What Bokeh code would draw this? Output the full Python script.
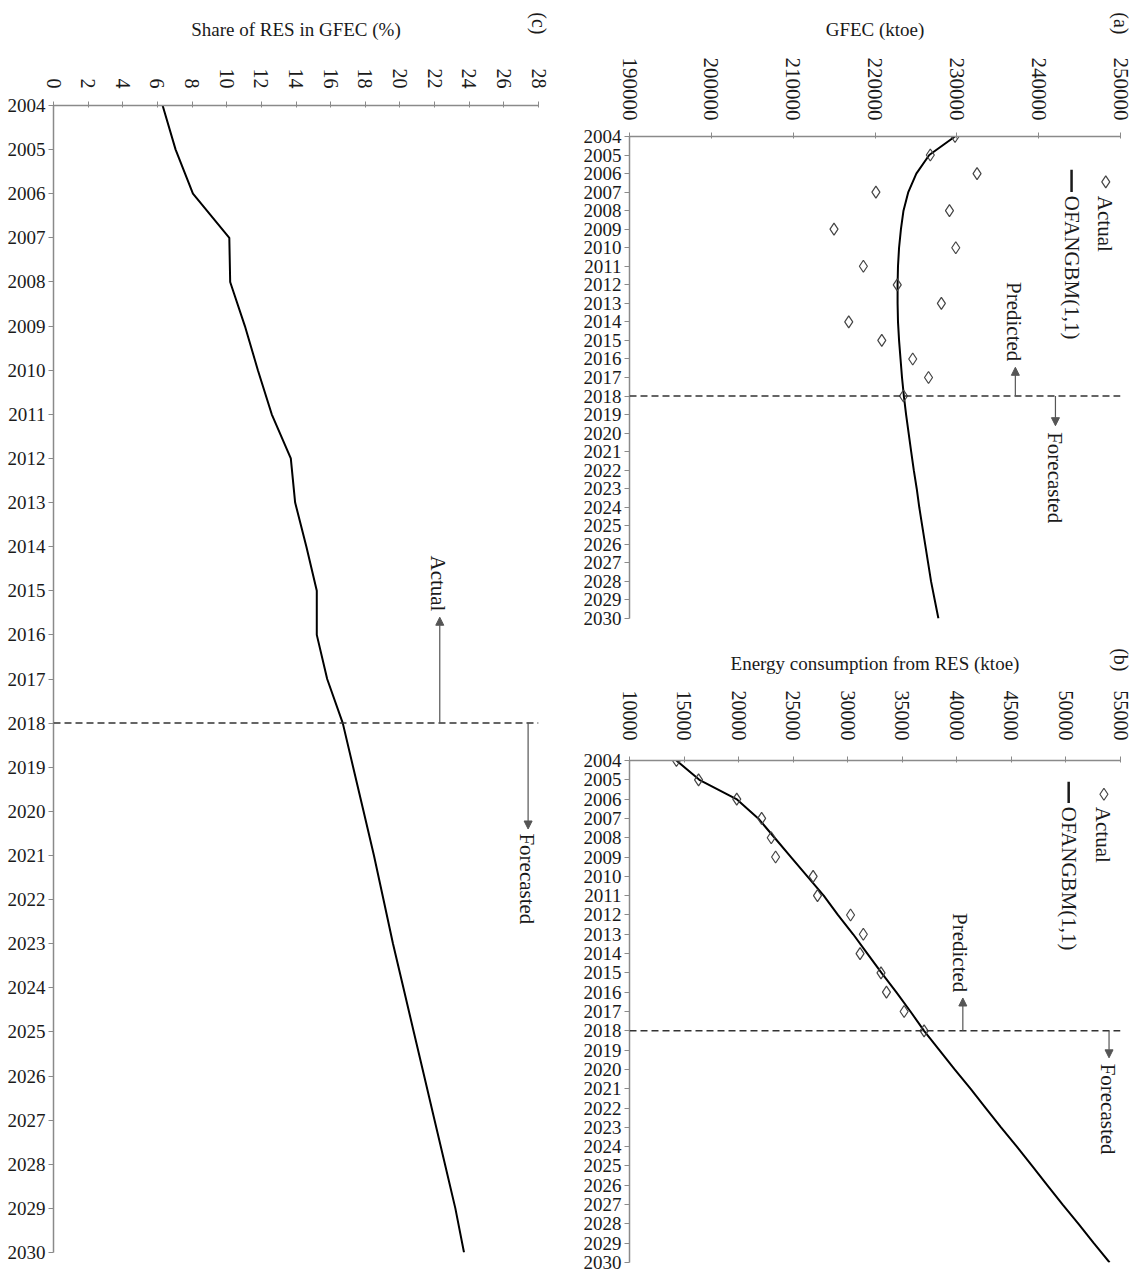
import math
from bokeh.plotting import figure
from bokeh.layouts import row, column
from bokeh.models import (Range1d, FixedTicker, NumeralTickFormatter, Span, Label,
                          Arrow, NormalHead, LinearAxis)
from bokeh.embed import file_html
from bokeh.resources import INLINE

# ---- data -------------------------------------------------------------
years = list(range(2004, 2031))
years_actual = list(range(2004, 2019))
split_year = 2018

# (a) gross final energy consumption, ktoe
gfec_actual = [229780, 226760, 232470, 220110, 229100, 214990, 229870, 218580,
               222720, 228110, 216790, 220830, 224610, 226540, 223480]
gfec_model = [229780, 226630, 225050, 224070, 223480, 223170, 222940, 222810,
              222760, 222760, 222810, 222940, 223120, 223300, 223530, 223800,
              224110, 224420, 224740, 225100, 225410, 225770, 226130, 226490,
              226850, 227300, 227750]

# (b) energy consumption from renewable sources, ktoe
res_actual = [14300, 16330, 19830, 22110, 22990, 23390, 26830, 27230, 30260,
              31430, 31130, 33050, 33550, 35170, 37000]
res_model = [14300, 16400, 19800, 21800, 23300, 24800, 26300, 27800, 29100,
             30500, 31800, 33100, 34450, 35750, 37000, 38400, 39800, 41250,
             42650, 44050, 45500, 46900, 48300, 49700, 51150, 52550, 54000]

# (c) share of renewables in GFEC, %
res_share = [6.3, 7.05, 8.05, 10.15, 10.2, 11.05, 11.8, 12.6, 13.7, 13.95, 14.6,
             15.2, 15.2, 15.8, 16.7, 17.3, 17.9, 18.5, 19.05, 19.6, 20.2, 20.8,
             21.4, 22.0, 22.6, 23.2, 23.7]

gfec_ticks = [190000, 200000, 210000, 220000, 230000, 240000, 250000]
res_ticks = [10000, 15000, 20000, 25000, 30000, 35000, 40000, 45000, 50000, 55000]
share_ticks = [0, 2, 4, 6, 8, 10, 12, 14, 16, 18, 20, 22, 24, 26, 28]

# ---- styling ----------------------------------------------------------
FONT = "Liberation Serif"
ROT = -math.pi / 2          # text reading top to bottom
AXIS_GREY = "#8a8a8a"
INK = "#1a1a1a"
ARROW_GREY = "#555555"


def make_panel(width, height, borders, xr, xticks, xlabel, label_standoff,
               tick_standoff, tick_size, fmt=None):
    left, right, top, bottom = borders
    p = figure(width=width, height=height,
               x_range=Range1d(*xr), y_range=Range1d(2030, 2004),
               x_axis_location="above", output_backend="svg",
               toolbar_location=None,
               min_border_left=left, min_border_right=right,
               min_border_top=top, min_border_bottom=bottom)
    p.outline_line_color = None
    p.xgrid.visible = False
    p.ygrid.visible = False
    p.background_fill_color = "white"
    p.border_fill_color = "white"

    xa = p.xaxis[0]
    xa.ticker = FixedTicker(ticks=xticks)
    if fmt is not None:
        xa.formatter = fmt
    xa.axis_label = xlabel
    xa.axis_label_text_font = FONT
    xa.axis_label_text_font_style = "normal"
    xa.axis_label_text_font_size = "19px"
    xa.axis_label_text_color = INK
    xa.axis_label_standoff = label_standoff
    xa.major_label_orientation = ROT
    xa.major_label_text_font = FONT
    xa.major_label_text_font_size = tick_size
    xa.major_label_text_color = INK
    xa.major_label_standoff = tick_standoff
    xa.axis_line_color = AXIS_GREY
    xa.axis_line_width = 1.5
    xa.major_tick_line_color = AXIS_GREY
    xa.major_tick_out = 4
    xa.major_tick_in = 2
    xa.minor_tick_line_color = None

    ya = p.yaxis[0]
    ya.ticker = FixedTicker(ticks=years)
    ya.major_label_text_font = FONT
    ya.major_label_text_font_size = "19px"
    ya.major_label_text_color = INK
    ya.major_label_standoff = 3
    ya.axis_line_color = AXIS_GREY
    ya.axis_line_width = 1.5
    ya.major_tick_line_color = AXIS_GREY
    ya.major_tick_out = 5
    ya.major_tick_in = 0
    ya.minor_tick_line_color = None

    p.add_layout(Span(location=split_year, dimension="width",
                      line_color="#333333", line_width=1.5, line_dash="7 4"))
    return p


def vtext(p, x, y, text, size="21px", align="left"):
    p.add_layout(Label(x=x, y=y, text=text, angle=ROT, text_align=align,
                       text_baseline="middle", text_font=FONT,
                       text_font_size=size, text_color=INK))


def letter_axis(p, at, text, standoff):
    # panel letter, carried by an outer axis with a single labelled tick;
    # the negative standoff pulls it down beside the axis title
    ax = LinearAxis(ticker=FixedTicker(ticks=[at]),
                    major_label_overrides={at: text},
                    major_label_orientation=ROT,
                    major_label_text_font=FONT,
                    major_label_text_font_size="20px",
                    major_label_text_color=INK,
                    major_label_standoff=standoff,
                    major_tick_out=0, major_tick_in=0,
                    axis_line_color=None, major_tick_line_color=None,
                    minor_tick_line_color=None)
    p.add_layout(ax, "above")


def arrow(p, x, y_end):
    p.add_layout(Arrow(end=NormalHead(size=8, fill_color=ARROW_GREY,
                                      line_color=ARROW_GREY),
                       x_start=x, y_start=split_year, x_end=x, y_end=y_end,
                       line_color=ARROW_GREY, line_width=1.2))


def legend(p, marker_xy, bar_x, bar_y, text_y, actual_x):
    p.scatter(x=[marker_xy[0]], y=[marker_xy[1]], marker="diamond", size=12,
              fill_color=None, line_color="#444444", line_width=1.2)
    vtext(p, actual_x, text_y, "Actual")
    p.segment(x0=[bar_x], y0=[bar_y[0]], x1=[bar_x], y1=[bar_y[1]],
              line_color=INK, line_width=2.5)
    vtext(p, bar_x, text_y, "OFANGBM(1,1)")


# ---- (c) share of RES in GFEC ----------------------------------------
pc = make_panel(570, 1274, (53, 32, 105, 22), (0, 28), share_ticks,
                "Share of RES in GFEC (%)", 26, 13, "20px")
pc.line(x=res_share, y=years, line_color="black", line_width=2)
vtext(pc, 22.2, 2014.2, "Actual")
arrow(pc, 22.3, 2015.6)
arrow(pc, 27.4, 2020.4)
vtext(pc, 27.35, 2020.5, "Forecasted")
letter_axis(pc, 28, "(c)", -19)

# ---- (a) GFEC ----------------------------------------------------------
pa = make_panel(577, 640, (59, 27, 136, 22), (190000, 250000), gfec_ticks,
                "GFEC (ktoe)", 15, 12, "21px", NumeralTickFormatter(format="0"))
pa.line(x=gfec_model, y=years, line_color="black", line_width=2)
pa.scatter(x=gfec_actual, y=years_actual, marker="diamond", size=12,
           fill_color=None, line_color="#444444", line_width=1.2)
legend(pa, (248200, 2006.45), 244020, (2005.8, 2007.0), 2007.2, 248150)
vtext(pa, 236950, 2011.85, "Predicted")
arrow(pa, 237150, 2016.45)
arrow(pa, 242050, 2019.6)
vtext(pa, 241950, 2019.95, "Forecasted")
letter_axis(pa, 250000, "(a)", -19)

# ---- (b) energy from RES ------------------------------------------------
pb = make_panel(577, 634, (59, 27, 120, 12), (10000, 55000), res_ticks,
                "Energy consumption from RES (ktoe)", 14, 16, "20px",
                NumeralTickFormatter(format="0"))
pb.line(x=res_model, y=years, line_color="black", line_width=2)
pb.scatter(x=res_actual, y=years_actual, marker="diamond", size=12,
           fill_color=None, line_color="#444444", line_width=1.2)
legend(pb, (53480, 2005.75), 50250, (2005.1, 2006.2), 2006.4, 53420)
vtext(pb, 40300, 2011.9, "Predicted")
arrow(pb, 40550, 2016.3)
arrow(pb, 53950, 2019.4)
vtext(pb, 53850, 2019.7, "Forecasted")
letter_axis(pb, 55000, "(b)", -22)

layout = row(pc, column(pa, pb))
open("out.html", "w").write(file_html(layout, INLINE))
